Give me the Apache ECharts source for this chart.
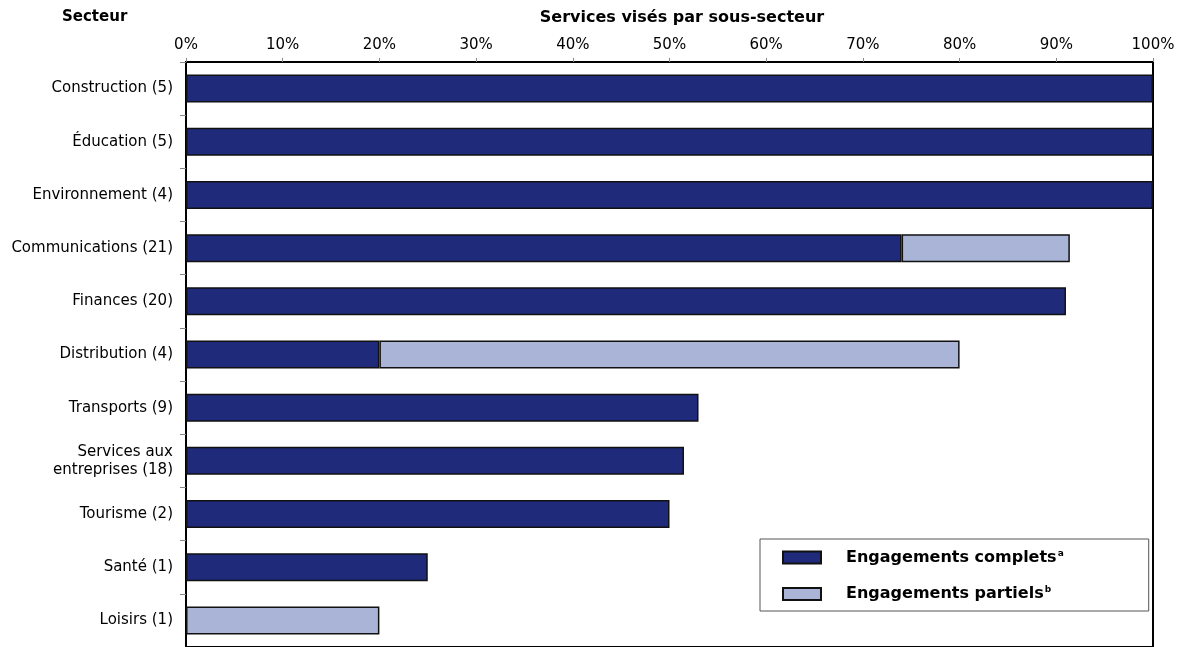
<!DOCTYPE html>
<html>
<head>
<meta charset="utf-8">
<script src="https://cdn.jsdelivr.net/npm/echarts@6/dist/echarts.min.js"></script>
<style>html,body{margin:0;padding:0;background:#fff}#c{width:1183px;height:647px}</style>
</head>
<body>
<div id="c"></div>
<script>
const categories = ["Construction (5)", "Éducation (5)", "Environnement (4)", "Communications (21)", "Finances (20)", "Distribution (4)", "Transports (9)", "Services aux\nentreprises (18)", "Tourisme (2)", "Santé (1)", "Loisirs (1)"];
const complets = [100, 100, 100, 74, 91, 20, 53, 51.5, 50, 25, null];
const partiels = [null, null, null, 17.4, null, 60, null, null, null, null, 20];
const xTicks = [0, 10, 20, 30, 40, 50, 60, 70, 80, 90, 100];

const chart = echarts.init(document.getElementById('c'));
const font = 'DejaVu Sans, Verdana, sans-serif';
chart.setOption({
  animation: false,
  textStyle: { fontFamily: font },
  graphic: [
    { type: 'text', left: 62, top: 10, style: { text: 'Secteur', font: 'bold 15px DejaVu Sans', fill: '#000' } },
    { type: 'text', x: 682, y: 10, style: { text: 'Services visés par sous-secteur', font: 'bold 16px DejaVu Sans', fill: '#000', textAlign: 'center', textVerticalAlign: 'top' } }
  ],
  grid: { left: 186, top: 62, width: 967, height: 588, show: true, borderColor: '#000', borderWidth: 2, backgroundColor: 'transparent' },
  legend: {
    orient: 'vertical', left: 760, top: 539,
    backgroundColor: '#fff', borderColor: '#555', borderWidth: 1,
    padding: [10, 85, 9, 22], itemGap: 20,
    itemWidth: 38, itemHeight: 12, icon: 'rect',
    data: ['Engagements complets', 'Engagements partiels'],
    formatter: function (n) {
      return n === 'Engagements complets' ? '{t|Engagements complets}{s|a}' : '{t|Engagements partiels}{s|b}';
    },
    textStyle: {
      rich: {
        t: { fontSize: 16, fontWeight: 'bold', color: '#000', fontFamily: font, padding: [0, 0, 0, 20] },
        s: { fontSize: 9, fontWeight: 'bold', color: '#000', fontFamily: font, verticalAlign: 'top', padding: [0, 0, 8, 1] }
      }
    }
  },
  xAxis: {
    type: 'value', position: 'top', min: xTicks[0], max: xTicks[xTicks.length - 1], interval: 10,
    axisLine: { show: true, lineStyle: { color: '#000', width: 2 } },
    axisTick: { show: true, length: 4, lineStyle: { color: '#888' } },
    splitLine: { show: false },
    axisLabel: { formatter: '{value}%', color: '#000', fontSize: 15, margin: 9, fontFamily: font }
  },
  yAxis: {
    type: 'category', inverse: true, data: categories,
    axisLine: { show: true, lineStyle: { color: '#000', width: 2 } },
    axisTick: { show: true, length: 6, alignWithLabel: false, lineStyle: { color: '#888' } },
    axisLabel: { color: '#000', fontSize: 15, margin: 13, align: 'right', lineHeight: 18, fontFamily: font }
  },
  series: [
    { name: 'Engagements complets', type: 'bar', stack: 's', barWidth: 28, data: complets,
      itemStyle: { color: '#1F2B7A', borderColor: '#111', borderWidth: 1.5 } },
    { name: 'Engagements partiels', type: 'bar', stack: 's', barWidth: 28, data: partiels,
      itemStyle: { color: '#A9B4D7', borderColor: '#111', borderWidth: 1.5 } }
  ]
});
</script>
</body>
</html>
